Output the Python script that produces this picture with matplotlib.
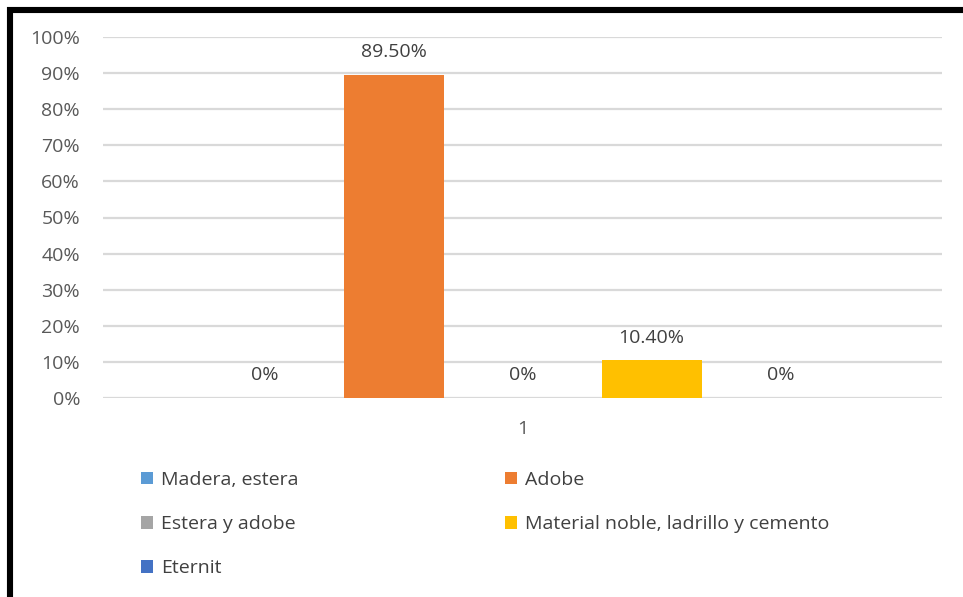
import matplotlib
matplotlib.use("Agg")
import matplotlib.pyplot as plt
from matplotlib.lines import Line2D
from matplotlib.patches import Patch
from matplotlib.ticker import PercentFormatter

# Housing wall material shares (single category "1")
categories = ["1"]
series_names = ["Madera, estera", "Adobe", "Estera y adobe",
                "Material noble, ladrillo y cemento", "Eternit"]
series_values = [0.0, 89.5, 0.0, 10.4, 0.0]
value_labels = ["0%", "89.50%", "0%", "10.40%", "0%"]
series_colors = ["#5B9BD5", "#ED7D31", "#A5A5A5", "#FFC000", "#4472C4"]
y_ticks = [0, 10, 20, 30, 40, 50, 60, 70, 80, 90, 100]

plt.rcParams["font.family"] = ["Open Sans", "DejaVu Sans"]
FS = 14
W, H = 963, 597
fig = plt.figure(figsize=(W / 100, H / 100), dpi=100)

ax = fig.add_axes([103 / W, 1 - 398 / H, (942 - 103) / W, (398 - 37) / H])

step = 129 / 839
width = 100 / 839
n = len(series_names)
for i, (name, val, col, lab) in enumerate(zip(series_names, series_values,
                                               series_colors, value_labels)):
    x = (i - (n - 1) / 2) * step
    ax.bar(x, val, width=width, color=col, label=name, zorder=3)
    ax.annotate(lab, (x, val), xytext=(0, 16.5), textcoords="offset points",
                ha="center", va="center", fontsize=FS, color="#404040")

ax.set_xlim(-0.5, 0.5)
ax.set_ylim(0, 100)
ax.set_yticks(y_ticks)
ax.yaxis.set_major_formatter(PercentFormatter(decimals=0))
ax.set_xticks([0])
ax.set_xticklabels(categories)
ax.tick_params(axis="both", length=0, labelsize=FS, colors="#595959")
ax.tick_params(axis="y", pad=16.5)
ax.tick_params(axis="x", pad=15.5)
ax.grid(axis="y", color="#D9D9D9", linewidth=1.6, zorder=0)
for s in ax.spines.values():
    s.set_visible(False)

# Legend laid out row by row: two columns
order = [0, 2, 4, 1, 3]
handles = [Patch(facecolor=series_colors[k], edgecolor="none") for k in order]
labels = [series_names[k] for k in order]
fig.legend(handles, labels, ncol=2, loc="upper left",
           bbox_to_anchor=(141 / W, 1 - 471 / H), frameon=False,
           fontsize=FS, labelcolor="#404040", handlelength=0.62,
           handleheight=0.62, handletextpad=0.41, columnspacing=10.6,
           labelspacing=1.34, borderpad=0, borderaxespad=0)

# Black frame along top and left edges
fig.add_artist(Line2D([7 / W, 1], [1 - 10 / H, 1 - 10 / H],
                      transform=fig.transFigure, color="black",
                      linewidth=4.4, solid_capstyle="butt"))
fig.add_artist(Line2D([10 / W, 10 / W], [1 - 7 / H, 0],
                      transform=fig.transFigure, color="black",
                      linewidth=4.4, solid_capstyle="butt"))

fig.savefig("out.png", dpi=100)
